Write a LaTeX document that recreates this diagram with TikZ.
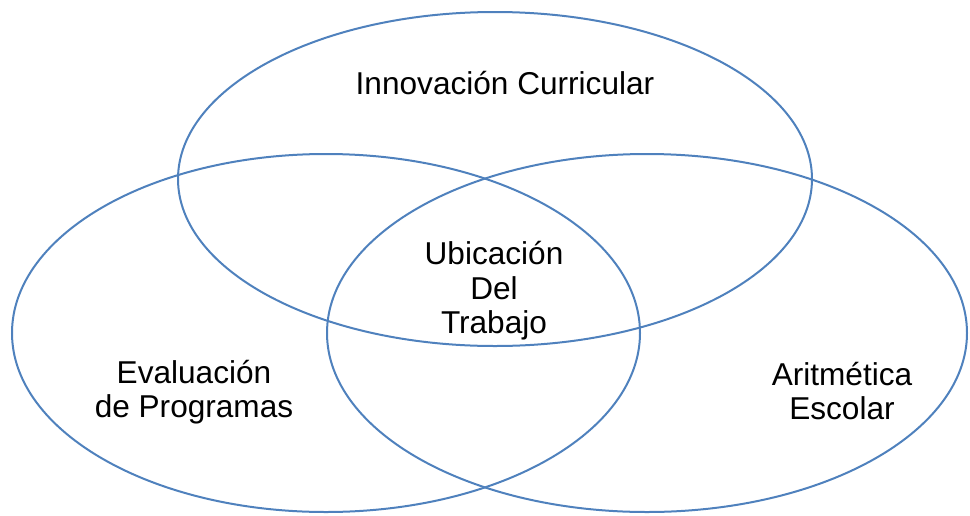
\documentclass[tikz,border=0pt]{standalone}
\usepackage{fontspec}
\setmainfont{Liberation Sans}
\definecolor{ringblue}{RGB}{79,129,189}
\begin{document}
\begin{tikzpicture}[x=1pt,y=-1pt,
  ring/.style={draw=ringblue,line width=2pt},
  lbl/.style={align=center,inner sep=0pt,font=\fontsize{31.6}{34.5}\selectfont,text=black}]
\useasboundingbox (0,0) rectangle (970,515);
\draw[ring] (495,179) ellipse [x radius=317, y radius=167];
\draw[ring] (326,333) ellipse [x radius=314, y radius=179];
\draw[ring] (647,333) ellipse [x radius=320, y radius=179];
\node[lbl] (inno) at (505,83) {Innovación Curricular};
\node[lbl] (ubic) at (494,291) {Ubicación\\Del\\Trabajo};
\node[lbl] (eval) at (194,392) {Evaluación\\de Programas};
\node[lbl] (arit) at (842,391) {Aritmética\\Escolar};
\end{tikzpicture}
\end{document}
